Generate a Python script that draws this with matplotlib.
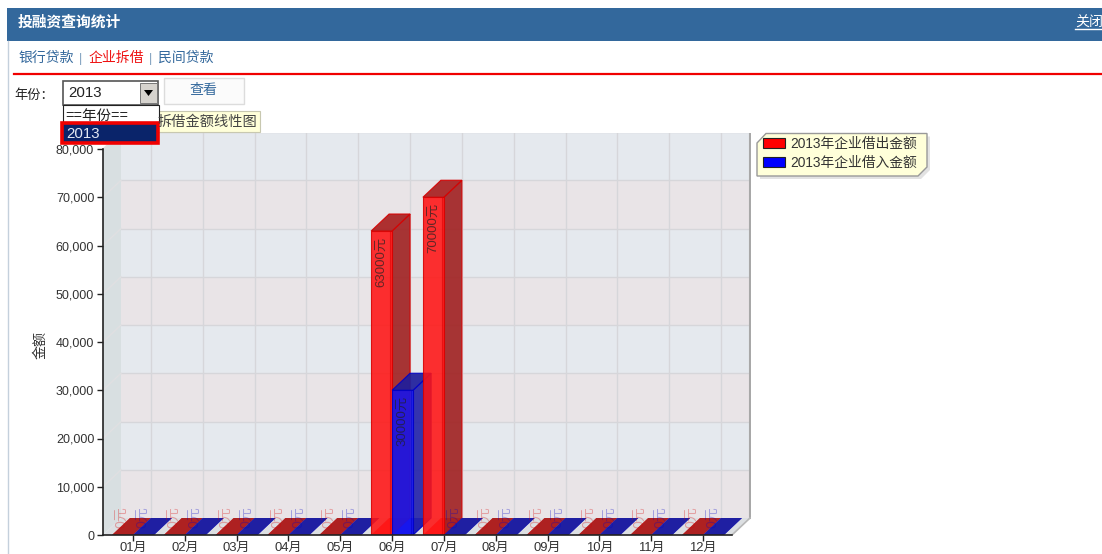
import matplotlib
matplotlib.use('Agg')
import matplotlib.pyplot as plt
from matplotlib.patches import Polygon, Patch, Rectangle

plt.rcParams['font.family'] = ['Liberation Sans', 'Noto Sans CJK SC', 'DejaVu Sans']

# data
months = ['01月', '02月', '03月', '04月', '05月', '06月', '07月', '08月', '09月', '10月', '11月', '12月']
lend_values = [0, 0, 0, 0, 0, 63000, 70000, 0, 0, 0, 0, 0]
borrow_values = [0, 0, 0, 0, 0, 30000, 0, 0, 0, 0, 0, 0]
series_names = ['2013年企业借出金额', '2013年企业借入金额']
y_ticks = [0, 10000, 20000, 30000, 40000, 50000, 60000, 70000, 80000]
y_title = '金额'
unit = '元'

W, H = 1102, 554
fig = plt.figure(figsize=(W / 100, H / 100), dpi=100)


def pt(px):
    return px * 0.72


# chart area in pixels: front plane plus the depth of the fake 3d box
left, right, top, bottom = 103, 751, 133, 535
cat_w = 51.82
val_px = 386 / 80000
depth_x = 18 / cat_w
depth_y = 17 / val_px
bar_w = 21 / cat_w

ax = fig.add_axes([left / W, 1 - bottom / H, (right - left) / W, (bottom - top) / H])
ax.set_xlim((left - 133) / cat_w, (right - 133) / cat_w)
ax.set_ylim(0, (bottom - top) / val_px)
ax.patch.set_alpha(0)

x_end = (732 - 133) / cat_w  # front right corner
x_start = ax.get_xlim()[0]
y_max = y_ticks[-1]

# back wall bands
for i in range(len(y_ticks) - 1):
    color = '#e9e4e7' if i % 2 == 0 else '#e5e9ee'
    ax.fill([x_start + depth_x, x_end + depth_x, x_end + depth_x, x_start + depth_x],
            [y_ticks[i] + depth_y, y_ticks[i] + depth_y, y_ticks[i + 1] + depth_y, y_ticks[i + 1] + depth_y],
            color=color, lw=0, zorder=1)

# side wall and floor
ax.fill([x_start, x_start + depth_x, x_start + depth_x, x_start],
        [0, depth_y, y_max + depth_y, y_max], color='#d8dfe1', lw=0, zorder=1)
ax.fill([x_start, x_start + depth_x, x_end + depth_x, x_end],
        [0, depth_y, depth_y, 0], color='#dcdfe2', lw=0, zorder=1)

# grid on the back wall
for v in y_ticks[1:]:
    ax.plot([x_start + depth_x, x_end + depth_x], [v + depth_y, v + depth_y], color='#d6d6da', lw=1, zorder=2)
    ax.plot([x_start, x_start + depth_x], [v, v + depth_y], color='#e0e0e2', lw=1, zorder=2)
for i in range(len(months)):
    ax.plot([i + depth_x, i + depth_x], [depth_y, y_max + depth_y], color='#d6d6da', lw=1, zorder=2)
ax.plot([x_start + depth_x, x_end + depth_x], [y_max + depth_y, y_max + depth_y], color='#a8a8a8', lw=1.2, zorder=2)
ax.plot([x_end + depth_x, x_end + depth_x], [depth_y, y_max + depth_y], color='#a8a8a8', lw=1.5, zorder=2)
ax.plot([x_end, x_end + depth_x], [0, depth_y], color='#b8b8b8', lw=1.2, zorder=2)


def draw_bar(x0, value, front, side, cap, edge, z):
    x1 = x0 + bar_w
    # floor of the bar
    ax.fill([x0, x1, x1 + depth_x, x0 + depth_x], [0, 0, depth_y, depth_y],
            color=front, alpha=0.85, lw=0, zorder=z)
    if value > 0:
        ax.fill([x1, x1 + depth_x, x1 + depth_x, x1], [0, depth_y, value + depth_y, value],
                facecolor=side, edgecolor=edge, alpha=0.9, lw=0.8, zorder=z)
        ax.bar(x0, value, bar_w, align='edge', color=front, edgecolor=edge, alpha=0.88, lw=0.8, zorder=z + 0.1)
        ax.plot([x1 - 2 / cat_w, x1 - 2 / cat_w], [0, value], color=edge, alpha=0.6, lw=0.8, zorder=z + 0.1)
    ax.fill([x0, x1, x1 + depth_x, x0 + depth_x], [value, value, value + depth_y, value + depth_y],
            facecolor=cap, edgecolor=edge if value > 0 else 'none', alpha=0.92, lw=0.8, zorder=z + 0.2)
    # value label, rotated like the original
    if value > 0:
        ax.text(x0 + bar_w / 2, value - 1200, f'{value}{unit}', rotation=90, ha='center', va='top',
                fontsize=pt(13.3), color='#222222', alpha=0.7, zorder=z + 0.3)
    else:
        ax.text(x0 + bar_w / 2 - 1 / cat_w, 6000, f'{value}{unit}', rotation=90, ha='center', va='top',
                fontsize=pt(14), color=edge, alpha=0.3, zorder=z + 0.3)


for i in range(len(months)):
    draw_bar(i - bar_w, lend_values[i], '#ff1414', '#a02020', '#a82020', '#d80000', 3 + i)
    draw_bar(i, borrow_values[i], '#1414ee', '#2020a8', '#1e1e9c', '#0000c8', 3.5 + i)

# axes
for s in ['top', 'right']:
    ax.spines[s].set_visible(False)
ax.spines['left'].set_bounds(0, y_max)
ax.spines['bottom'].set_bounds(x_start, x_end)
ax.spines['left'].set_color('#222222')
ax.spines['bottom'].set_color('#222222')
ax.spines['left'].set_linewidth(1.2)
ax.spines['bottom'].set_linewidth(1.2)
ax.spines['left'].set_zorder(30)
ax.spines['bottom'].set_zorder(30)
ax.set_yticks(y_ticks)
ax.set_yticklabels([f'{v:,}' for v in y_ticks], fontsize=pt(12.5), color='#333333')
ax.set_xticks(range(len(months)))
ax.set_xticklabels(months, fontsize=pt(13), color='#333333')
ax.tick_params(axis='y', length=4.3, width=1, color='#222222', pad=2)
ax.tick_params(axis='x', length=4, width=1, color='#222222', pad=0.8)
ax.set_ylabel(y_title, fontsize=pt(14), color='#333333', labelpad=0)
ax.yaxis.set_label_coords((47 - left) / (right - left), (bottom - 345) / (bottom - top))

# page around the chart, in pixels
ui = fig.add_axes([0, 0, 1, 1], zorder=5)
ui.set_xlim(0, W)
ui.set_ylim(H, 0)
ui.axis('off')
ui.patch.set_alpha(0)

blue = '#33689c'
ui.add_patch(Rectangle((7, 8), W - 7, 33, color=blue, lw=0))
ui.plot([7.5, 7.5], [41, H], color='#c4d0dc', lw=1)
ui.text(18, 23, '投融资查询统计', color='white', fontsize=pt(14.8), fontweight='bold', va='center')
ui.text(1075, 23, '关闭', color='white', fontsize=pt(14), va='center', clip_on=True)
ui.plot([1075, W], [29, 29], color='white', lw=1)

ui.text(19, 58, '银行贷款', color=blue, fontsize=pt(13.9), va='center')
ui.text(81, 59, '|', color='#7a9cbc', fontsize=pt(13), va='center', ha='center')
ui.text(89, 58, '企业拆借', color='#ee1111', fontsize=pt(13.9), va='center')
ui.text(151, 59, '|', color='#7a9cbc', fontsize=pt(13), va='center', ha='center')
ui.text(158, 58, '民间贷款', color=blue, fontsize=pt(13.9), va='center')
ui.plot([14, W], [73.5, 73.5], color='#f00000', lw=1.6)

ui.text(14, 96, '年份：', color='#222222', fontsize=pt(13.2), va='center', family=['Noto Sans CJK SC'])

# select box
ui.add_patch(Rectangle((63, 80.5), 95, 24, facecolor='white', edgecolor='#555555', lw=1.2))
ui.add_patch(Rectangle((140, 83), 17, 20, facecolor='#d6d3ce', edgecolor='#777777', lw=0.7))
ui.add_patch(Polygon([(144, 90), (153, 90), (148.5, 96)], color='black', lw=0))
ui.text(68, 93, '2013', color='#222222', fontsize=pt(15), va='center')

# button
ui.add_patch(Rectangle((163.5, 78), 80, 26, facecolor='#fbfbfb', edgecolor='#dcdcdc', lw=1))
ui.text(203, 90, '查看', color=blue, fontsize=pt(14), va='center', ha='center')

# tooltip behind the dropdown
ui.add_patch(Rectangle((150, 111), 110, 21, facecolor='#ffffd9', edgecolor='#c8c8b0', lw=0.8))
ui.text(158, 122, '拆借金额线性图', color='#444444', fontsize=pt(14.2), va='center', family=['Noto Sans CJK SC'])

# dropdown list
ui.add_patch(Rectangle((62.5, 105), 96, 18, facecolor='white', edgecolor='#222222', lw=0.8))
ui.text(65, 116, '==年份==', color='#222222', fontsize=pt(14.5), va='center')
ui.add_patch(Rectangle((61.5, 122.5), 96.5, 20.5, facecolor='#0a246a', edgecolor='#f00000', lw=2.6))
ui.text(66, 134, '2013', color='#e4e8f4', fontsize=pt(15), va='center')

# legend box with cut corners
legend_shape = [(757, 143), (766, 133.5), (927, 133.5), (927, 167), (918, 176), (757, 176)]
ui.add_patch(Polygon([(a + 3, b + 3) for a, b in legend_shape], color='#e2e2e2', lw=0))
ui.add_patch(Polygon(legend_shape, facecolor='#ffffd9', edgecolor='#999999', lw=1))
handles = [Patch(facecolor='#ff0000', edgecolor='#222222', lw=0.8),
           Patch(facecolor='#0000ff', edgecolor='#222222', lw=0.8)]
leg = ui.legend(handles, series_names, loc='upper left', bbox_to_anchor=(747.7 / W, 1 - 122 / H),
                bbox_transform=fig.transFigure, frameon=False, fontsize=pt(13.8), labelcolor='#333333',
                handlelength=1.6, handleheight=0.72, handletextpad=0.36, labelspacing=0.35, borderpad=0.6)

fig.savefig('out.png', dpi=100)
